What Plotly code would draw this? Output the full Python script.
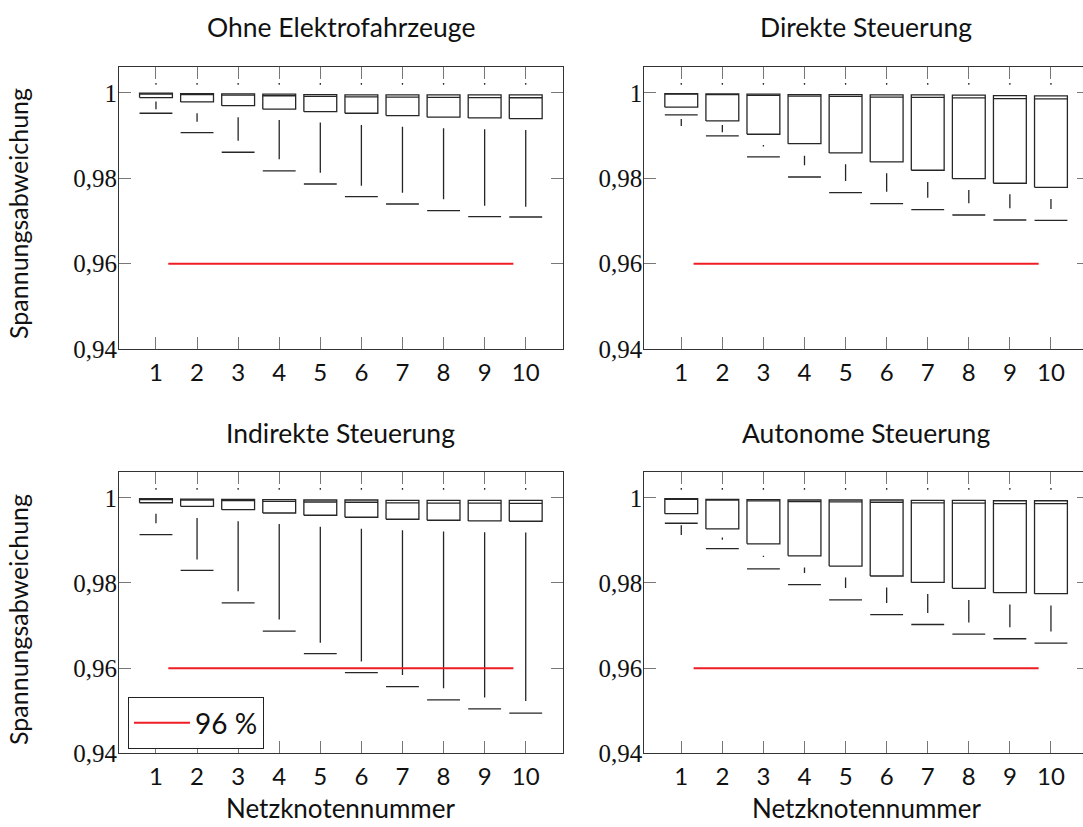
import plotly.graph_objects as go

# ---------------- data ----------------
nodes = [1, 2, 3, 4, 5, 6, 7, 8, 9, 10]
y_tickvals = [0.94, 0.96, 0.98, 1.0]
y_ticktext = ["0,94", "0,96", "0,98", "1"]
limit_value = 0.96
limit_x = [1.3, 9.7]
limit_name = "96 %"

panel_titles = ["Ohne Elektrofahrzeuge", "Direkte Steuerung",
                "Indirekte Steuerung", "Autonome Steuerung"]
x_title = "Netzknotennummer"
y_title = "Spannungsabweichung"

# Ohne Elektrofahrzeuge
ohne_upper = [1.0023, 1.0023, 1.0023, 1.0023, 1.0023, 1.0023, 1.0023, 1.0023, 1.0023, 1.0023]
ohne_q3 = [0.99993, 0.99984, 0.99977, 0.99970, 0.99960, 0.99953, 0.99953, 0.99953, 0.99953, 0.99953]
ohne_med = [0.99974, 0.99960, 0.99948, 0.99934, 0.99918, 0.99906, 0.99899, 0.99894, 0.99890, 0.99887]
ohne_q1 = [0.99890, 0.99789, 0.99702, 0.99618, 0.99561, 0.99524, 0.99468, 0.99431, 0.99414, 0.99397]
ohne_wtop = [0.99796, 0.99524, 0.99431, 0.99367, 0.99304, 0.99250, 0.99210, 0.99172, 0.99149, 0.99132]
ohne_wbot = [0.99618, 0.99327, 0.98882, 0.98446, 0.98132, 0.97827, 0.97662, 0.97508, 0.97357, 0.97330]
ohne_cap = [0.99524, 0.99069, 0.98610, 0.98171, 0.97866, 0.97569, 0.97397, 0.97240, 0.97100, 0.97093]

# Direkte Steuerung
direkt_upper = [1.0023, 1.0023, 1.0023, 1.0023, 1.0023, 1.0023, 1.0023, 1.0023, 1.0023, 1.0023]
direkt_q3 = [0.99984, 0.99977, 0.99970, 0.99960, 0.99960, 0.99953, 0.99953, 0.99946, 0.99937, 0.99930]
direkt_med = [0.99972, 0.99958, 0.99941, 0.99925, 0.99918, 0.99902, 0.99894, 0.99883, 0.99866, 0.99859]
direkt_q1 = [0.99665, 0.99343, 0.99032, 0.98811, 0.98593, 0.98382, 0.98188, 0.97991, 0.97883, 0.97789]
direkt_wtop = [0.99390, 0.99250, 0.98781, 0.98530, 0.98328, 0.98117, 0.97913, 0.97726, 0.97625, 0.97515]
direkt_wbot = [0.99226, 0.99079, 0.98746, 0.98305, 0.97937, 0.97686, 0.97545, 0.97414, 0.97297, 0.97280]
direkt_cap = [0.99484, 0.98992, 0.98499, 0.98030, 0.97662, 0.97404, 0.97264, 0.97139, 0.97022, 0.97015]

# Indirekte Steuerung
indirekt_upper = [1.0023, 1.0023, 1.0023, 1.0023, 1.0023, 1.0023, 1.0023, 1.0023, 1.0023, 1.0023]
indirekt_q3 = [0.99979, 0.99972, 0.99965, 0.99956, 0.99949, 0.99949, 0.99942, 0.99942, 0.99942, 0.99942]
indirekt_med = [0.99960, 0.99949, 0.99935, 0.99918, 0.99902, 0.99897, 0.99883, 0.99878, 0.99874, 0.99871]
indirekt_q1 = [0.99885, 0.99801, 0.99722, 0.99644, 0.99591, 0.99544, 0.99497, 0.99474, 0.99457, 0.99450]
indirekt_wtop = [0.99628, 0.99527, 0.99450, 0.99387, 0.99324, 0.99277, 0.99240, 0.99207, 0.99193, 0.99184]
indirekt_wbot = [0.99403, 0.98552, 0.97804, 0.97141, 0.96596, 0.96159, 0.95839, 0.95527, 0.95310, 0.95230]
indirekt_cap = [0.99137, 0.98295, 0.97532, 0.96868, 0.96339, 0.95895, 0.95567, 0.95254, 0.95043, 0.94943]

# Autonome Steuerung
autonom_upper = [1.0023, 1.0023, 1.0023, 1.0023, 1.0023, 1.0023, 1.0023, 1.0023, 1.0023, 1.0023]
autonom_q3 = [0.99979, 0.99965, 0.99956, 0.99949, 0.99949, 0.99949, 0.99942, 0.99942, 0.99932, 0.99932]
autonom_med = [0.99967, 0.99946, 0.99927, 0.99913, 0.99906, 0.99897, 0.99883, 0.99878, 0.99862, 0.99862]
autonom_q1 = [0.99628, 0.99270, 0.98919, 0.98639, 0.98398, 0.98164, 0.98014, 0.97874, 0.97773, 0.97750]
autonom_wtop = [0.99357, 0.99067, 0.98639, 0.98365, 0.98131, 0.97897, 0.97743, 0.97602, 0.97492, 0.97469]
autonom_wbot = [0.99130, 0.99013, 0.98608, 0.98234, 0.97883, 0.97532, 0.97298, 0.97071, 0.96961, 0.96861]
autonom_cap = [0.99403, 0.98809, 0.98334, 0.97960, 0.97602, 0.97258, 0.97025, 0.96798, 0.96690, 0.96587]

panels = [
    (ohne_upper, ohne_q3, ohne_med, ohne_q1, ohne_wtop, ohne_wbot, ohne_cap),
    (direkt_upper, direkt_q3, direkt_med, direkt_q1, direkt_wtop, direkt_wbot, direkt_cap),
    (indirekt_upper, indirekt_q3, indirekt_med, indirekt_q1, indirekt_wtop, indirekt_wbot, indirekt_cap),
    (autonom_upper, autonom_q3, autonom_med, autonom_q1, autonom_wtop, autonom_wbot, autonom_cap),
]

# ---------------- style ----------------
HW = 0.4            # half box width (data units)
UP_LEN = 0.0004     # length of the tiny upper whisker stub
LINE_COLOR = "#262626"
LINE_W = 1.3
SANS = "Lato, 'Open Sans', sans-serif"
SERIF = "'Liberation Serif', 'DejaVu Serif', serif"

fig = go.Figure()

for i, (up, q3, med, q1, wtop, wbot, cap) in enumerate(panels):
    ax = "" if i == 0 else str(i + 1)
    xr, yr = "x" + ax, "y" + ax
    bx, by, mx, my, wx, wy, cx, cy, ux, uy = [], [], [], [], [], [], [], [], [], []
    for k, n in enumerate(nodes):
        bx += [n - HW, n + HW, n + HW, n - HW, n - HW, None]
        by += [q1[k], q1[k], q3[k], q3[k], q1[k], None]
        mx += [n - HW, n + HW, None]
        my += [med[k], med[k], None]
        wx += [n, n, None]
        wy += [wtop[k], wbot[k], None]
        cx += [n - HW, n + HW, None]
        cy += [cap[k], cap[k], None]
        ux += [n, n, None]
        uy += [up[k], up[k] - UP_LEN, None]
    common = dict(mode="lines", xaxis=xr, yaxis=yr, showlegend=False, hoverinfo="skip",
                  line=dict(color=LINE_COLOR, width=LINE_W))
    fig.add_trace(go.Scatter(x=bx, y=by, **common))
    fig.add_trace(go.Scatter(x=mx, y=my, **common))
    fig.add_trace(go.Scatter(x=wx, y=wy, **common))
    fig.add_trace(go.Scatter(x=cx, y=cy, **common))
    fig.add_trace(go.Scatter(x=ux, y=uy, **common))
    fig.add_trace(go.Scatter(x=limit_x, y=[limit_value, limit_value], mode="lines",
                             xaxis=xr, yaxis=yr, name=limit_name,
                             showlegend=(i == 2),
                             line=dict(color="#ee1d23", width=2)))

# empty traces so the right-hand tick axes of the (cropped) right panels are drawn
fig.add_trace(go.Scatter(x=[], y=[], xaxis="x2", yaxis="y5", showlegend=False, hoverinfo="skip"))
fig.add_trace(go.Scatter(x=[], y=[], xaxis="x4", yaxis="y6", showlegend=False, hoverinfo="skip"))

# ---------------- layout ----------------
XL = [0.10988, 0.51957]
XR = [0.59492, 1.0]
YT = [0.57799, 0.91862]
YB = [0.08912, 0.42890]
YRANGE = [0.94, 1.006]

def xaxis(domain, rng, anchor):
    return dict(domain=domain, range=rng, anchor=anchor, tickmode="array",
                tickvals=nodes, ticktext=[str(n) for n in nodes],
                ticks="inside", ticklen=12, tickwidth=1, tickcolor="#777",
                showline=True, linecolor="#333", linewidth=1.2, mirror="ticks",
                showgrid=False, zeroline=False, ticklabelstandoff=2,
                tickfont=dict(family=SANS, size=24, color="#111"))

def yaxis(domain, anchor, mirror):
    return dict(domain=domain, range=YRANGE, anchor=anchor, tickmode="array",
                tickvals=y_tickvals, ticktext=y_ticktext,
                ticks="inside", ticklen=12, tickwidth=1, tickcolor="#777",
                showline=True, linecolor="#333", linewidth=1.2, mirror=mirror,
                showgrid=False, zeroline=False, ticklabelstandoff=-4,
                tickfont=dict(family=SERIF, size=25, color="#111"))

def right_ticks(domain, over):
    return dict(domain=domain, range=YRANGE, overlaying=over, anchor="free",
                position=1.0, side="right",
                tickmode="array", tickvals=y_tickvals, showticklabels=False,
                ticks="inside", ticklen=6, tickwidth=1, tickcolor="#777",
                showline=False, showgrid=False, zeroline=False)

fig.update_layout(
    width=1083, height=827,
    margin=dict(l=0, r=0, t=0, b=0, autoexpand=False),
    paper_bgcolor="white", plot_bgcolor="white",
    xaxis=xaxis(XL, [0.1, 10.9], "y"),
    yaxis=yaxis(YT, "x", "ticks"),
    xaxis2=xaxis(XR, [0.1, 10.78], "y2"),
    yaxis2=yaxis(YT, "x2", False),
    xaxis3=xaxis(XL, [0.1, 10.9], "y3"),
    yaxis3=yaxis(YB, "x3", "ticks"),
    xaxis4=xaxis(XR, [0.1, 10.78], "y4"),
    yaxis4=yaxis(YB, "x4", False),
    yaxis5=right_ticks(YT, "y2"),
    yaxis6=right_ticks(YB, "y4"),
    legend=dict(x=128 / 1083, y=1 - 697 / 827, xanchor="left", yanchor="top",
                bgcolor="white", bordercolor="#222", borderwidth=1,
                font=dict(family=SANS, size=28, color="#111"), itemwidth=56),
    showlegend=True,
)

ann = []
title_pos = [(340.9, 27), (866, 27), (340.9, 433), (866, 433)]
for t, (px, py) in zip(panel_titles, title_pos):
    ann.append(dict(text=t, x=px / 1083, y=1 - py / 827, xref="paper", yref="paper",
                    showarrow=False, xanchor="center", yanchor="middle",
                    font=dict(family=SANS, size=26.5, color="#111")))
for px in (340.9, 866):
    ann.append(dict(text=x_title, x=px / 1083, y=1 - 808 / 827, xref="paper", yref="paper",
                    showarrow=False, xanchor="center", yanchor="middle",
                    font=dict(family=SANS, size=26, color="#111")))
for py in (214, 620):
    ann.append(dict(text=y_title, x=18 / 1083, y=1 - py / 827, xref="paper", yref="paper",
                    showarrow=False, xanchor="center", yanchor="middle", textangle=-90,
                    font=dict(family=SANS, size=25, color="#111")))
fig.update_layout(annotations=ann)

fig.write_html(
    "out.html",
    config={"displayModeBar": False},
    post_script="document.documentElement.style.margin='0';document.body.style.margin='0';"
                "document.documentElement.style.overflow='hidden';document.body.style.overflow='hidden';",
)
